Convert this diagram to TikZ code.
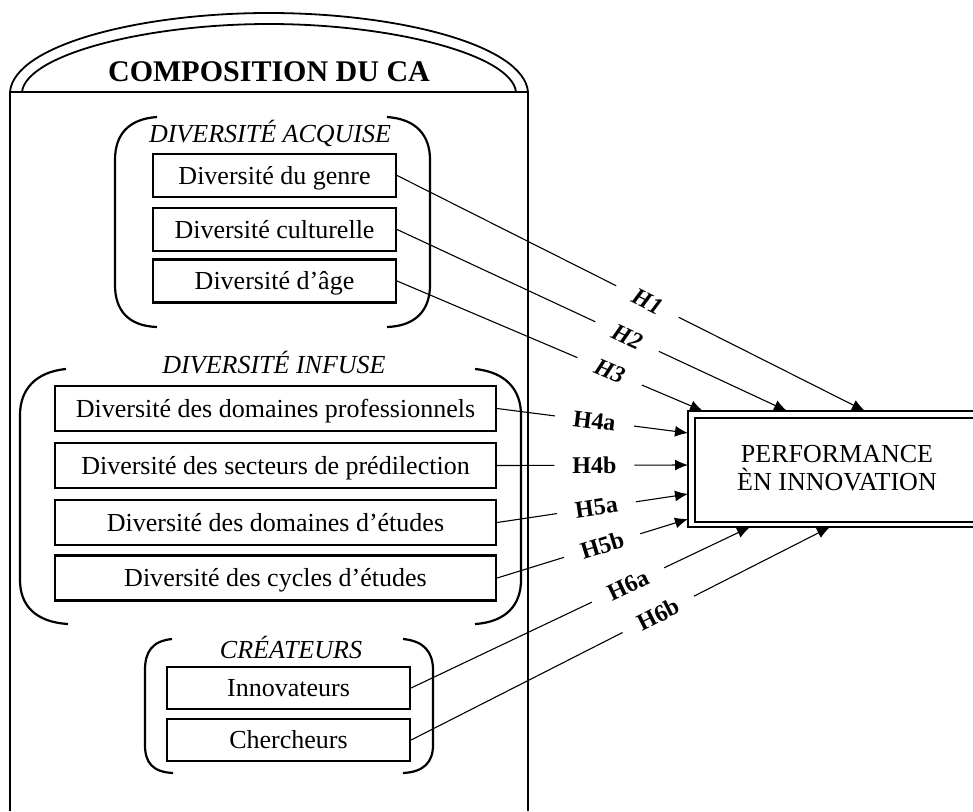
\documentclass[tikz,border=0pt]{standalone}
\usepackage{fontspec}
\setmainfont{Liberation Serif}
\usetikzlibrary{arrows.meta,calc}
\newcommand\hypline[5]{%
  \draw[line width=1.1pt,shorten >=#5] (#1) -- ($(#1)!#3!(#2)$);
  \draw[conn,shorten <=#5] ($(#1)!#3!(#2)$) -- (#2);
  \path (#1) -- node[hlab,pos=#3]{#4} (#2);}
\begin{document}
\begin{tikzpicture}[x=1pt,y=-1pt,
  txt/.style={font=\fontsize{26}{28}\selectfont},
  box/.style={draw,line width=2.2pt,txt,inner sep=0pt,text height=20pt,text depth=3pt},
  box1/.style={box,minimum width=243pt,minimum height=43pt},
  box2/.style={box,minimum width=441pt,minimum height=45pt},
  box3/.style={box,minimum width=243pt,minimum height=42pt},
  ttl/.style={font=\fontsize{26}{28}\selectfont\itshape},
  frame/.style={line width=2.2pt},
  brk/.style={line width=2.2pt},
  conn/.style={line width=1.1pt,-{Latex[length=13pt,width=11pt]}},
  hlab/.style={inner sep=1pt,sloped,font=\fontsize{24}{24}\selectfont\bfseries}]
\clip (0,0) rectangle (973,811);
\useasboundingbox (0,0) rectangle (973,811);
% column with arch
\draw[frame] (10,811) -- (10,92) -- (528,92) -- (528,811);
\draw[line width=1.8pt] (10,92) .. controls (14,45) and (140,13) .. (269,13) .. controls (398,13) and (524,45) .. (528,92);
\draw[line width=1.8pt] (22,92) .. controls (26,55) and (145,24) .. (269,24) .. controls (393,24) and (512,55) .. (516,92);
\node[font=\fontsize{30}{30}\selectfont\bfseries] (t0) at (269,72) {COMPOSITION DU CA};
% group 1
\node[ttl] (t1) at (270,133) {DIVERSITÉ ACQUISE};
\draw[brk] (157,117) .. controls (128,119) and (115,135) .. (115,160) -- (115,285) .. controls (115,310) and (128,326) .. (157,327);
\draw[brk] (387,117) .. controls (416,119) and (430,135) .. (430,160) -- (430,285) .. controls (430,310) and (416,326) .. (387,327);
\node[box1] (b1) at (274.5,175.5) {Diversité du genre};
\node[box1] (b2) at (274.5,229.5) {Diversité culturelle};
\node[box1] (b3) at (274.5,281) {Diversité d’âge};
% group 2
\node[ttl] (t2) at (274,363) {DIVERSITÉ INFUSE};
\draw[brk] (66,369) .. controls (35,372) and (20,390) .. (20,415) -- (20,580) .. controls (20,605) and (35,622) .. (68,624);
\draw[brk] (475,369) .. controls (506,372) and (521,390) .. (521,415) -- (521,580) .. controls (521,605) and (506,622) .. (475,624);
\node[box2] (c1) at (275.5,408.5) {Diversité des domaines professionnels};
\node[box2] (c2) at (275.5,465.5) {Diversité des secteurs de prédilection};
\node[box2] (c3) at (275.5,522.5) {Diversité des domaines d’études};
\node[box2] (c4) at (275.5,578) {Diversité des cycles d’études};
% group 3
\node[ttl] (t3) at (291,647) {CRÉATEURS};
\draw[brk] (172,639) .. controls (152,641) and (145,652) .. (145,670) -- (145,745) .. controls (145,762) and (152,772) .. (173,773);
\draw[brk] (403,639) .. controls (424,641) and (433,652) .. (433,670) -- (433,745) .. controls (433,762) and (424,772) .. (403,773);
\node[box3] (d1) at (288.5,688) {Innovateurs};
\node[box3] (d2) at (288.5,740) {Chercheurs};
% performance box
\draw[line width=2.2pt] (990,411) -- (688,411) -- (688,527) -- (990,527);
\draw[line width=1.6pt] (990,418) -- (695,418) -- (695,522) -- (990,522);
\node[txt,align=center] (perf) at (837,468) {PERFORMANCE\\ÈN INNOVATION};
\coordinate (a1) at (865,411);
\coordinate (a2) at (787,411);
\coordinate (a3) at (703,411);
\coordinate (a4) at (688,433);
\coordinate (a5) at (688,465);
\coordinate (a6) at (688,494);
\coordinate (a7) at (688,519);
\coordinate (a8) at (750,527);
\coordinate (a9) at (830,527);
% connectors
\hypline{b1.east}{a1}{.535}{\itshape H1}{35pt}
\hypline{b2.east}{a2}{.59}{\itshape H2}{35pt}
\hypline{b3.east}{a3}{.695}{\itshape H3}{35pt}
\hypline{c1.east}{a4}{.51}{H4a}{40pt}
\hypline{c2.east}{a5}{.51}{H4b}{40pt}
\hypline{c3.east}{a6}{.52}{H5a}{40pt}
\hypline{c4.east}{a7}{.55}{H5b}{40pt}
\hypline{d1.east}{a8}{.64}{H6a}{40pt}
\hypline{d2.east}{a9}{.59}{H6b}{40pt}
\end{tikzpicture}
\end{document}
